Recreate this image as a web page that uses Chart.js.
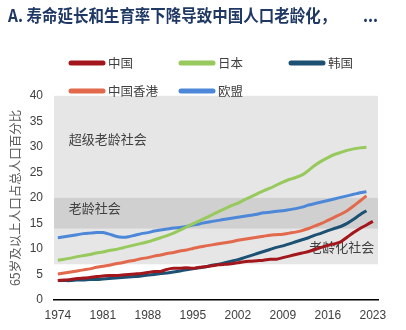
<!DOCTYPE html>
<html>
<head>
<meta charset="utf-8">
<script src="https://cdn.jsdelivr.net/npm/chart.js@4"></script>
<style>
  html, body { margin: 0; padding: 0; background: #fff; }
  #wrap { width: 406px; height: 330px; }
</style>
</head>
<body>
<div id="wrap"><canvas id="myChart" width="406" height="330"></canvas></div>
<script>
// years covered by the series
var years = [];
for (var yr = 1974; yr <= 2023; yr++) years.push(yr);

// share of population aged 65+ (%), one value per year
var china = [3.8, 3.9, 4.0, 4.2, 4.3, 4.4, 4.6, 4.7, 4.8, 4.8, 4.9, 5.0, 5.1, 5.2, 5.4, 5.6, 5.6, 6.0, 6.2, 6.2, 6.3, 6.2, 6.4, 6.5, 6.7, 6.9, 7.0, 7.1, 7.3, 7.5, 7.6, 7.7, 7.8, 8.0, 8.0, 8.3, 8.6, 8.9, 9.2, 9.5, 9.9, 10.3, 10.7, 11.0, 11.4, 12.3, 13.2, 14.0, 14.7, 15.4];
var japan = [7.8, 8.0, 8.2, 8.5, 8.7, 8.9, 9.2, 9.4, 9.7, 9.9, 10.2, 10.5, 10.8, 11.1, 11.4, 11.8, 12.2, 12.6, 13.1, 13.7, 14.3, 14.9, 15.5, 16.1, 16.7, 17.3, 17.9, 18.5, 19.0, 19.6, 20.2, 20.8, 21.4, 21.9, 22.5, 23.1, 23.6, 24.0, 24.5, 25.4, 26.4, 27.2, 27.9, 28.5, 28.9, 29.3, 29.6, 29.8, 29.9, null];
var korea = [3.8, 3.8, 3.8, 3.9, 3.9, 4.0, 4.0, 4.1, 4.2, 4.3, 4.4, 4.5, 4.6, 4.7, 4.9, 5.0, 5.2, 5.3, 5.5, 5.7, 5.9, 6.1, 6.3, 6.5, 6.8, 7.0, 7.3, 7.6, 7.9, 8.3, 8.7, 9.1, 9.5, 9.9, 10.3, 10.6, 11.0, 11.4, 11.8, 12.2, 12.7, 13.1, 13.6, 14.0, 14.4, 15.0, 15.8, 16.7, 17.5, null];
var hongKong = [5.1, 5.3, 5.5, 5.7, 5.9, 6.1, 6.4, 6.6, 6.8, 7.1, 7.3, 7.6, 7.8, 8.1, 8.3, 8.6, 8.8, 9.1, 9.3, 9.6, 9.8, 10.1, 10.4, 10.6, 10.8, 11.0, 11.2, 11.4, 11.7, 11.9, 12.1, 12.3, 12.5, 12.7, 12.8, 12.9, 13.1, 13.3, 13.6, 14.0, 14.5, 15.0, 15.6, 16.2, 16.8, 17.5, 18.4, 19.4, 20.4, null];
var eu = [12.2, 12.4, 12.6, 12.8, 13.0, 13.1, 13.2, 13.2, 12.9, 12.5, 12.3, 12.4, 12.7, 13.0, 13.2, 13.5, 13.7, 13.9, 14.1, 14.2, 14.4, 14.7, 14.9, 15.2, 15.4, 15.6, 15.8, 16.0, 16.2, 16.4, 16.6, 16.8, 17.1, 17.2, 17.4, 17.5, 17.7, 17.9, 18.2, 18.6, 18.9, 19.2, 19.5, 19.8, 20.1, 20.4, 20.7, 21.0, 21.2, null];

var xTicks = [1974, 1981, 1988, 1995, 2002, 2009, 2016, 2023];
var yTicks = [0, 5, 10, 15, 20, 25, 30, 35, 40];

// ageing stages shaded behind the lines (percent ranges)
var stageNames = ['超级老龄社会', '老龄社会', '老龄化社会'];
var stageRanges = [[20, 40], [14, 20], [7, 14]];

function toPoints(arr) {
  return arr.map(function (v, i) { return { x: years[i], y: v }; });
}

var CJK = '"Noto Sans CJK SC", "Noto Sans", sans-serif';
var TXT = '#404040';

var stagePlugin = {
  id: 'stages',
  beforeDatasetsDraw: function (chart) {
    var c = chart.ctx, a = chart.chartArea, y = chart.scales.y, x = chart.scales.x;
    var outer = [stageRanges[2][0], stageRanges[0][1]];
    c.save();
    c.fillStyle = '#e6e6e6';
    c.fillRect(a.left, y.getPixelForValue(outer[1]), a.right - a.left, y.getPixelForValue(outer[0]) - y.getPixelForValue(outer[1]));
    c.fillStyle = '#d0d0d0';
    c.fillRect(a.left, y.getPixelForValue(stageRanges[1][1]), a.right - a.left, y.getPixelForValue(stageRanges[1][0]) - y.getPixelForValue(stageRanges[1][1]));
    c.font = '13px ' + CJK;
    c.fillStyle = TXT;
    c.textBaseline = 'middle';
    c.textAlign = 'left';
    c.fillText(stageNames[0], x.getPixelForValue(1975.7), y.getPixelForValue(31.6));
    c.fillText(stageNames[1], x.getPixelForValue(1975.7), y.getPixelForValue(18.1));
    c.textAlign = 'right';
    c.fillText(stageNames[2], x.getPixelForValue(2023.2), y.getPixelForValue(10.4));
    c.restore();
  }
};

// two-row legend with thick line swatches
var legendPlugin = {
  id: 'lineLegend',
  afterDraw: function (chart) {
    var c = chart.ctx;
    var slots = [[69, 63], [179, 63], [289, 63], [69, 91], [179, 91]];
    c.save();
    c.font = '12.5px ' + CJK;
    c.textBaseline = 'middle';
    c.textAlign = 'left';
    chart.data.datasets.forEach(function (ds, i) {
      var s = slots[i];
      c.strokeStyle = ds.borderColor;
      c.lineWidth = 5;
      c.lineCap = 'round';
      c.beginPath();
      c.moveTo(s[0] + 2, s[1]);
      c.lineTo(s[0] + 34, s[1]);
      c.stroke();
      c.fillStyle = TXT;
      c.fillText(ds.label, s[0] + 39, s[1]);
    });
    c.restore();
  }
};

function series(label, data, color) {
  return {
    label: label,
    data: toPoints(data),
    borderColor: color,
    backgroundColor: color,
    borderWidth: 3,
    pointRadius: 0,
    tension: 0.25,
    fill: false
  };
}

var ctx = document.getElementById('myChart').getContext('2d');
var chart = new Chart(ctx, {
  type: 'line',
  data: {
    datasets: [
      series('中国', china, '#a3161c'),
      series('日本', japan, '#97c95c'),
      series('韩国', korea, '#1c5174'),
      series('中国香港', hongKong, '#e2694b'),
      series('欧盟', eu, '#4d88d8')
    ]
  },
  plugins: [stagePlugin, legendPlugin],
  options: {
    responsive: false,
    animation: false,
    layout: { padding: { left: 8, right: 28, top: 0, bottom: 0 } },
    plugins: {
      legend: { display: false },
      tooltip: { enabled: false },
      title: {
        display: true,
        text: 'A. 寿命延长和生育率下降导致中国人口老龄化，\u3000\u3000 ...',
        align: 'start',
        color: '#1f3864',
        font: { family: CJK, size: 16.5, weight: 'bold' },
        padding: { top: 6, bottom: 70 }
      }
    },
    scales: {
      x: {
        type: 'linear',
        min: 1973.4,
        max: 2023.8,
        afterBuildTicks: function (scale) {
          scale.ticks = xTicks.map(function (v) { return { value: v }; });
        },
        afterFit: function (scale) { scale.height = 30; },
        grid: { display: false, drawTicks: false },
        border: { display: true, color: '#000', width: 1.5 },
        ticks: {
          padding: 8,
          maxRotation: 0,
          autoSkip: false,
          color: TXT,
          font: { family: '"Liberation Sans", Arial, sans-serif', size: 12 },
          callback: function (v) { return String(v); }
        }
      },
      y: {
        min: 0,
        max: 40,
        afterBuildTicks: function (scale) {
          scale.ticks = yTicks.map(function (v) { return { value: v }; });
        },
        afterFit: function (scale) { scale.width = 46; },
        grid: { display: false, drawTicks: false },
        border: { display: false },
        ticks: {
          padding: 11,
          color: TXT,
          font: { family: '"Liberation Sans", Arial, sans-serif', size: 12 }
        },
        title: {
          display: true,
          text: '65岁及以上人口占总人口百分比',
          color: '#595959',
          font: { family: CJK, size: 12.5 },
          padding: { top: 0, bottom: 0 }
        }
      }
    }
  }
});
</script>
</body>
</html>
